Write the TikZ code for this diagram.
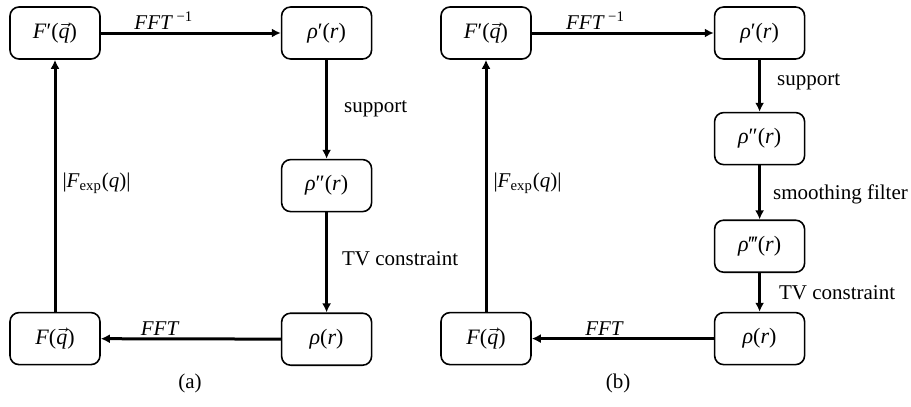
\documentclass[tikz,border=0pt]{standalone}
\usepackage{amsmath}
\usepackage{amssymb}
\usepackage{fontspec}
\setmainfont{Liberation Serif}
\usetikzlibrary{positioning,arrows.meta}

% italic letters taken from the text font
\newcommand{\iv}[1]{\textit{#1}}
\newcommand{\vq}{\ensuremath{\vec{\text{\itshape q}}}}
\newcommand{\rh}{\textit{ρ}}

\tikzset{
	blk/.style={draw, line width=0.8pt, rounded corners=4.5pt,
		minimum width=45pt, minimum height=26pt, inner sep=0pt,
		font=\fontsize{11}{12}\selectfont},
	flow/.style={line width=1.5pt, -{Latex[length=4.5pt,width=4.5pt]}},
	lbl/.style={font=\fontsize{10.5}{12}\selectfont, inner sep=1pt},
}

\begin{document}
\begin{tikzpicture}[x=0.5pt, y=-0.5pt]
	\useasboundingbox (0,0) rectangle (911,407);
	%% fig a
	\node[blk] (fpa) at (55,33) {\iv{F}′(\vq)};
	\node[blk, right=90pt of fpa] (rpa) {\rh′(\iv{r})};
	\node[blk, below=49.5pt of rpa] (rppa) {\rh″(\iv{r})};
	\node[blk, below=50pt of rppa] (ra) {\rh(\iv{r})};
	\node[blk, below=126pt of fpa] (fa) {\iv{F}(\vq)};
	% connect the blocks
	\draw[flow] (fpa) -- node[lbl, above, pos=0.35] {\iv{FFT}\,\textsuperscript{−1}} (rpa);
	\draw[flow] (rpa) -- node[lbl, right=7pt] {support} (rppa);
	\draw[flow] (rppa) -- node[lbl, right=6pt, yshift=2pt] {TV constraint} (ra);
	\draw[flow] (ra) -- node[lbl, above, pos=0.67] {\iv{FFT}} (fa);
	\draw[flow] (fa) -- node[lbl, right=2pt, pos=0.51] {|\iv{F}\textsubscript{exp}(\iv{q})|} (fpa);
	\node[lbl] (capa) at (190,383) {(a)};
	%% fig b
	\node[blk] (fpb) at (486,33) {\iv{F}′(\vq)};
	\node[blk, right=91pt of fpb] (rpb) {\rh′(\iv{r})};
	\node[blk, below=26pt of rpb] (rppb) {\rh″(\iv{r})};
	\node[blk, below=27pt of rppb] (rpppb) {\rh‴(\iv{r})};
	\node[blk, below=126pt of fpb] (fb) {\iv{F}(\vq)};
	\node[blk] (rb) at (fb -| rpb) {\rh(\iv{r})};
	% connect the blocks
	\draw[flow] (fpb) -- node[lbl, above, pos=0.35] {\iv{FFT}\,\textsuperscript{−1}} (rpb);
	\draw[flow] (rpb) -- node[lbl, right=7pt, yshift=2pt] {support} (rppb);
	\draw[flow] (rppb) -- node[lbl, right=5pt, yshift=-1pt] {smoothing filter} (rpppb);
	\draw[flow] (rpppb) -- node[lbl, right=8pt] {TV constraint} (rb);
	\draw[flow] (rb) -- node[lbl, above, pos=0.6] {\iv{FFT}} (fb);
	\draw[flow] (fb) -- node[lbl, right=2pt, pos=0.51] {|\iv{F}\textsubscript{exp}(\iv{q})|} (fpb);
	\node[lbl] (capb) at (618,383) {(b)};
\end{tikzpicture}
\end{document}
